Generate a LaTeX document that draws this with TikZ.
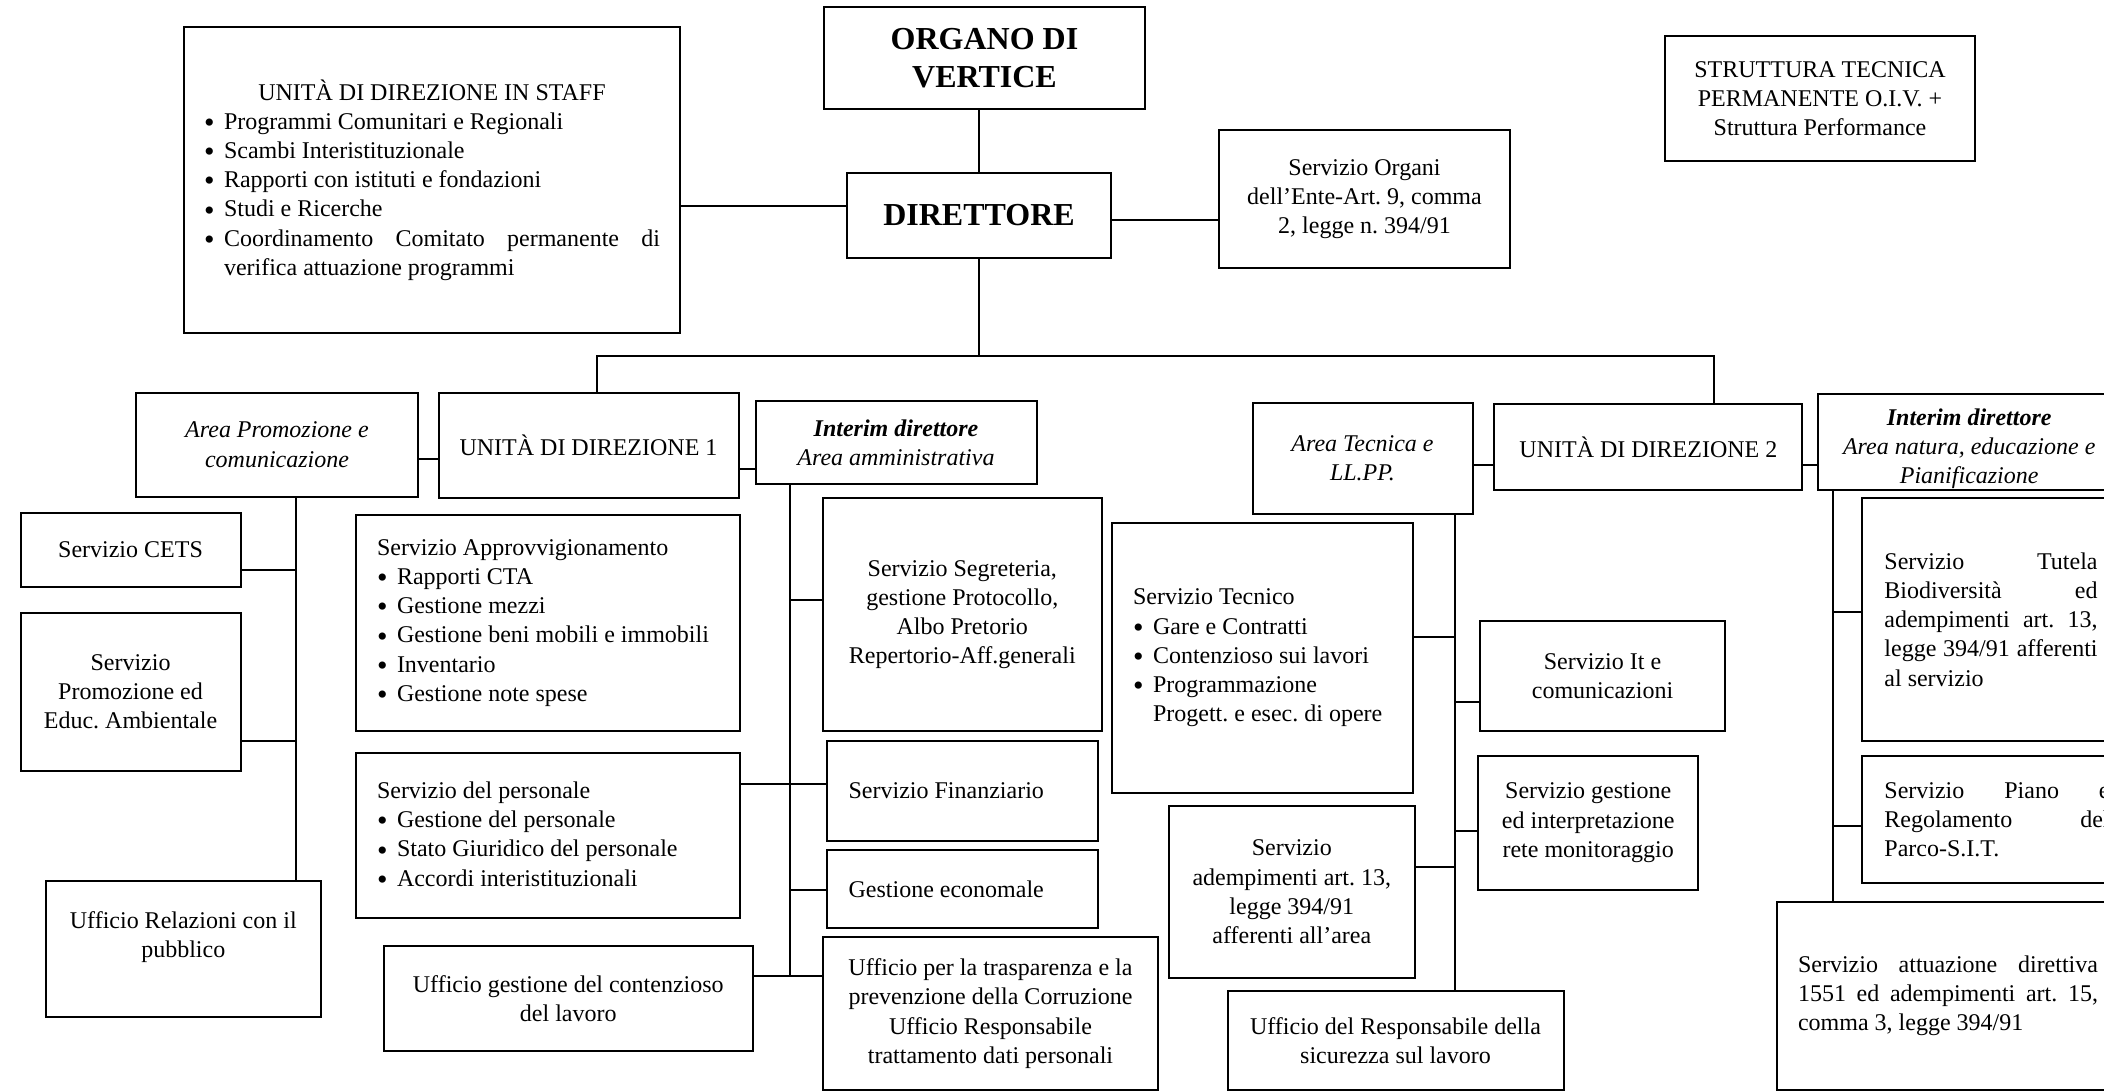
\documentclass[tikz,border=0pt]{standalone}
\usepackage{fontspec}
\setmainfont{Liberation Serif}
\frenchspacing
\hyphenpenalty=10000
\exhyphenpenalty=10000
\tolerance=9999
\hbadness=10000
\newcommand{\voce}[1]{\par\noindent\makebox[10pt][l]{\raisebox{-1.6pt}{\fontsize{15}{15}\selectfont\textbullet}}\parbox[t]{\dimexpr\hsize-10pt\relax}{#1}}

\begin{document}
\begin{tikzpicture}[
  x=0.5pt, y=-0.5pt,
  ufficio/.style={draw, line width=1pt, inner sep=0pt, align=center, font=\fontsize{12}{14.6}\selectfont},
  vertice/.style={ufficio, font=\bfseries\fontsize{16}{19}\selectfont},
  settore/.style={ufficio, font=\itshape\fontsize{12}{14.6}\selectfont},
  elenco/.style={ufficio, align=flush left},
  giusto/.style={ufficio, align=justify},
  linea/.style={line width=1pt}
]
\useasboundingbox (0,0) rectangle (2104,1092);
\clip (0,0) rectangle (2104,1092);

\node[vertice, minimum width=160.5pt, minimum height=51pt] (organo) at (984.5,58) {ORGANO DI\\VERTICE};
\node[vertice, minimum width=132pt, minimum height=42.5pt] (dir) at (979,215.5) {DIRETTORE};
\node[ufficio, minimum width=145.5pt, minimum height=69pt] (organi) at (1364.5,199) {Servizio Organi\\dell’Ente-Art. 9, comma\\2, legge n. 394/91};
\node[ufficio, minimum width=155pt, minimum height=62.5pt] (oiv) at (1820,98.5) {STRUTTURA TECNICA\\PERMANENTE O.I.V. +\\Struttura Performance};
\node[giusto, minimum width=248pt, minimum height=153pt, text width=228pt] (staff) at (432,180) {{\centering UNITÀ DI DIREZIONE IN STAFF\par}\voce{Programmi Comunitari e Regionali}\voce{Scambi Interistituzionale}\voce{Rapporti con istituti e fondazioni}\voce{Studi e Ricerche}\voce{Coordinamento Comitato permanente di\linebreak verifica attuazione programmi}};

\node[settore, minimum width=141pt, minimum height=52pt] (apc) at (277,444.7) {Area Promozione e\\comunicazione};
\node[ufficio, minimum width=150pt, minimum height=52.5pt] (ud1) at (588.5,445.3) {UNITÀ DI DIREZIONE 1};
\node[settore, minimum width=140.5pt, minimum height=41.5pt] (iam) at (896,442.7) {\textbf{Interim direttore}\\Area amministrativa};

\node[ufficio, minimum width=110pt, minimum height=37.2pt] (cets) at (130.5,549.8) {Servizio CETS};
\node[ufficio, minimum width=110pt, minimum height=79pt] (prom) at (130.5,691.5) {Servizio\\Promozione ed\\Educ. Ambientale};
\node[ufficio, minimum width=137.75pt, minimum height=68pt] (urp) at (183.3,949) {Ufficio Relazioni con il\\pubblico\\\mbox{}};

\node[elenco, minimum width=191.8pt, minimum height=108pt, text width=171.2pt] (appr) at (548.2,623) {Servizio Approvvigionamento\voce{Rapporti CTA}\voce{Gestione mezzi}\voce{Gestione beni mobili e immobili}\voce{Inventario}\voce{Gestione note spese}};
\node[elenco, minimum width=191.8pt, minimum height=82.5pt, text width=171.2pt] (pers) at (548.2,835.5) {Servizio del personale\voce{Gestione del personale}\voce{Stato Giuridico del personale}\voce{Accordi interistituzionali}};
\node[ufficio, minimum width=184.7pt, minimum height=52.5pt] (cont) at (568.3,998.5) {Ufficio gestione del contenzioso\\del lavoro};

\node[ufficio, minimum width=139.3pt, minimum height=116.5pt] (segr) at (962.3,614.5) {Servizio Segreteria,\\gestione Protocollo,\\Albo Pretorio\\Repertorio-Aff.generali};
\node[elenco, minimum width=135.5pt, minimum height=50pt, text width=113.9pt] (fin) at (962.5,791) {Servizio Finanziario};
\node[elenco, minimum width=135.5pt, minimum height=39pt, text width=113.9pt] (econ) at (962.5,889) {Gestione economale};
\node[ufficio, minimum width=167.5pt, minimum height=76.5pt] (trasp) at (990.5,1013.5) {Ufficio per la trasparenza e la\\prevenzione della Corruzione\\Ufficio Responsabile\\trattamento dati personali};

\node[settore, minimum width=110pt, minimum height=55.5pt] (atl) at (1362.5,458.4) {Area Tecnica e\\LL.PP.};
\node[ufficio, minimum width=154pt, minimum height=43pt] (ud2) at (1648.4,447) {UNITÀ DI DIREZIONE 2};
\node[settore, minimum width=150.8pt, minimum height=48.2pt] (ian) at (1969.2,441.8) {\rule{0pt}{15pt}\textbf{Interim direttore}\\Area natura, educazione e\\Pianificazione};

\node[elenco, minimum width=150.75pt, minimum height=135pt, text width=129.25pt] (stec) at (1262.3,658) {Servizio Tecnico\voce{Gare e Contratti}\voce{Contenzioso sui lavori}\voce{Programmazione\\Progett. e esec. di opere}};
\node[ufficio, minimum width=122.5pt, minimum height=55pt] (sit) at (1602.5,675.9) {Servizio It e\\comunicazioni};
\node[ufficio, minimum width=109.8pt, minimum height=66.75pt] (sgi) at (1588.2,822.8) {Servizio gestione\\ed interpretazione\\rete monitoraggio};
\node[ufficio, minimum width=123.25pt, minimum height=85.8pt] (sad) at (1291.8,891.8) {Servizio\\adempimenti art. 13,\\legge 394/91\\afferenti all’area};
\node[ufficio, minimum width=168pt, minimum height=49.6pt] (sic) at (1395.5,1040.4) {Ufficio del Responsabile della\\sicurezza sul lavoro};

\node[giusto, minimum width=129pt, minimum height=121.5pt, text width=106.6pt] (tut) at (1991,619.5) {Servizio Tutela\linebreak Biodiversità ed\linebreak adempimenti art. 13,\linebreak legge 394/91 afferenti\linebreak al servizio};
\node[giusto, minimum width=135pt, minimum height=63.5pt, text width=112.6pt] (piano) at (1997,819.5) {Servizio Piano e\linebreak Regolamento del\linebreak Parco-S.I.T.};
\node[giusto, minimum width=170.6pt, minimum height=94pt, text width=150pt] (sat) at (1948,996) {Servizio attuazione direttiva\linebreak 1551 ed adempimenti art. 15,\linebreak comma 3, legge 394/91};

\draw[linea] (dir.north) -- (dir.north |- organo.south);
\coordinate (js) at (760,205.7);
\draw[linea] (js -| staff.east) -- (js -| dir.west);
\coordinate (jo) at (1160,220);
\draw[linea] (jo -| dir.east) -- (jo -| organi.west);
\coordinate (b1) at (597,356);
\coordinate (b2) at (1714,356);
\draw[linea] (dir.south) -- (dir.south |- b1);
\draw[linea] (b1 |- ud1.north) -- (b1) -- (b2) -- (b2 |- ud2.north);

\coordinate (j1) at (428,458.6);
\draw[linea] (j1 -| apc.east) -- (j1 -| ud1.west);
\coordinate (j2) at (747,468.6);
\draw[linea] (j2 -| ud1.east) -- (j2 -| iam.west);
\coordinate (j3) at (1483,465.4);
\draw[linea] (j3 -| atl.east) -- (j3 -| ud2.west);
\coordinate (j4) at (1810,465);
\draw[linea] (j4 -| ud2.east) -- (j4 -| ian.west);

\coordinate (pa) at (295.6,569.8);
\coordinate (pb) at (295.6,741);
\draw[linea] (pa |- apc.south) -- (pa |- urp.north);
\draw[linea] (pa) -- (pa -| cets.east);
\draw[linea] (pb) -- (pb -| prom.east);

\coordinate (aa) at (790,600);
\coordinate (ab) at (790,784);
\coordinate (ac) at (790,889.5);
\coordinate (ad) at (790,976);
\draw[linea] (aa |- iam.south) -- (ad);
\draw[linea] (aa) -- (aa -| segr.west);
\draw[linea] (ab -| pers.east) -- (ab -| fin.west);
\draw[linea] (ac) -- (ac -| econ.west);
\draw[linea] (ad -| cont.east) -- (ad -| trasp.west);

\coordinate (ta) at (1454.7,636.6);
\coordinate (tb) at (1454.7,702.4);
\coordinate (tc) at (1454.7,830.5);
\coordinate (td) at (1454.7,867.3);
\draw[linea] (ta |- atl.south) -- (ta |- sic.north);
\draw[linea] (ta) -- (ta -| stec.east);
\draw[linea] (tb) -- (tb -| sit.west);
\draw[linea] (tc) -- (tc -| sgi.west);
\draw[linea] (td) -- (td -| sad.east);

\coordinate (na) at (1832.5,611.6);
\coordinate (nb) at (1832.5,826);
\draw[linea] (na |- ian.south) -- (na |- sat.north);
\draw[linea] (na) -- (na -| tut.west);
\draw[linea] (nb) -- (nb -| piano.west);
\end{tikzpicture}
\end{document}
